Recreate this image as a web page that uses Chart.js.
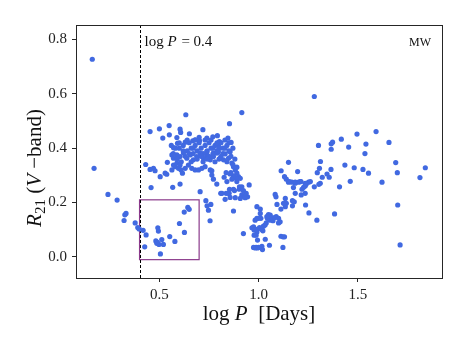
<!DOCTYPE html>
<html>
<head>
<meta charset="utf-8">
<script src="https://cdn.jsdelivr.net/npm/chart.js@4/dist/chart.umd.min.js"></script>
<style>
  html, body { margin: 0; padding: 0; background: #fff; }
  #wrap { width: 468px; height: 351px; }
</style>
</head>
<body>
<div id="wrap"><canvas id="r21Chart" width="468" height="351"></canvas></div>
<script>
// log P (days) and R21 amplitude ratio
const logP = [
    0.162, 0.171, 0.241, 0.287, 0.326, 0.332, 0.322, 0.378, 0.391, 0.398,
    0.418, 0.433, 0.426, 0.492, 0.495, 0.482, 0.490, 0.498, 0.512, 0.520,
    0.505, 0.552, 0.578, 0.601, 0.625, 0.643, 0.650, 0.626, 0.487,
    0.705, 0.734, 0.740, 0.747, 0.755, 0.759, 0.809, 0.831, 0.851, 0.878,
    0.873, 0.902, 0.915, 0.927, 0.944, 0.952, 0.923, 0.937, 0.932, 0.907,
    0.882, 0.856, 0.848, 0.836, 0.815, 0.873, 0.853, 0.903, 0.915, 0.923,
    0.772, 0.789, 0.764,
    0.974, 0.977, 0.991, 0.994, 1.008, 1.011, 1.024, 1.033, 0.994, 0.982,
    1.019, 1.054, 1.058, 0.991, 1.008, 0.982, 0.991, 1.049, 1.044, 1.038,
    1.032, 1.058, 1.067, 1.072, 1.088, 1.100, 1.108, 0.966, 0.977, 0.991,
    1.004, 1.016, 1.016, 0.974, 0.987, 0.999, 1.112, 1.122, 1.130, 1.122,
    0.999, 1.011, 1.021, 0.987, 1.083, 1.087, 1.092, 1.134, 1.139, 1.134,
    1.125, 1.112, 1.100, 1.080, 1.041,
    1.150, 1.113, 1.130, 1.139, 1.150, 1.167, 1.184, 1.201, 1.213, 1.251,
    1.260, 1.175, 1.184, 1.218, 1.226, 1.234, 1.239, 1.214, 1.234, 1.170,
    1.179, 1.170, 1.236, 1.253, 1.293, 1.382, 1.196, 1.155, 1.184, 1.209,
    1.234, 1.280,
    1.280, 1.301, 1.365, 1.372, 1.365, 1.416, 1.453, 1.495, 1.540, 1.535,
    1.591, 1.656, 1.311, 1.306, 1.434, 1.481, 1.525, 1.553, 1.690, 1.698,
    1.839, 1.812, 1.621, 1.461, 1.407, 1.364, 1.344, 1.355, 1.320, 1.295,
    1.310, 1.303, 1.700, 1.712,
    0.431, 0.453, 0.470, 0.478, 0.458, 0.504, 0.529, 0.537, 0.567, 0.604,
    0.540, 0.563,
    0.633, 0.453, 0.500, 0.549, 0.517, 0.550, 0.604, 0.607, 0.651, 0.719,
    0.588, 0.591, 0.630, 0.668, 0.680, 0.702, 0.739, 0.769, 0.792, 0.915,
    0.853, 0.845, 0.861, 0.802, 0.797, 0.571, 0.563,
    0.571, 0.579, 0.588, 0.596, 0.604, 0.609, 0.616, 0.630, 0.646, 0.663,
    0.680, 0.697, 0.714, 0.730, 0.756, 0.764, 0.571, 0.588, 0.604, 0.621,
    0.638, 0.655, 0.671, 0.688, 0.705, 0.722, 0.739, 0.756, 0.772, 0.789,
    0.714, 0.739, 0.772, 0.797, 0.831, 0.856, 0.806, 0.823, 0.848, 0.865,
    0.873, 0.882, 0.890, 0.898, 0.907, 0.887, 0.873, 0.856, 0.836, 0.826,
    0.840, 0.865, 0.890,
    0.60, 0.62, 0.64, 0.65, 0.66, 0.67, 0.68, 0.69, 0.70, 0.71,
    0.72, 0.73, 0.74, 0.75, 0.76, 0.77, 0.78, 0.79, 0.80, 0.81,
    0.82, 0.83, 0.84, 0.85, 0.86, 0.63, 0.66, 0.69, 0.72, 0.75,
    0.78, 0.81, 0.84, 0.61, 0.70, 0.73, 0.68, 0.64, 0.60, 0.58,
    0.57, 0.56, 0.59, 0.62, 0.65, 0.67, 0.71, 0.74, 0.77, 0.80,
    0.82, 0.79, 0.76, 0.83, 0.85, 0.87, 0.88, 0.87, 0.89, 0.86
];
const r21 = [
    0.727, 0.326, 0.230, 0.209, 0.155, 0.160, 0.134, 0.125, 0.108, 0.103,
    0.098, 0.081, 0.037, 0.107, 0.095, 0.059, 0.054, 0.046, 0.064, 0.046,
    0.011, 0.075, 0.057, 0.123, 0.165, 0.182, 0.175, 0.090, 0.050,
    0.240, 0.207, 0.188, 0.172, 0.133, 0.193, 0.234, 0.212, 0.234, 0.244,
    0.169, 0.249, 0.228, 0.221, 0.221, 0.265, 0.086, 0.234, 0.218, 0.215,
    0.218, 0.219, 0.234, 0.234, 0.234, 0.249, 0.249, 0.258, 0.258, 0.244,
    0.286, 0.268, 0.317,
    0.111, 0.080, 0.101, 0.062, 0.160, 0.142, 0.113, 0.065, 0.033, 0.033,
    0.027, 0.043, 0.154, 0.185, 0.176, 0.135, 0.142, 0.156, 0.142, 0.125,
    0.117, 0.135, 0.144, 0.133, 0.148, 0.142, 0.129, 0.107, 0.099, 0.092,
    0.108, 0.101, 0.039, 0.035, 0.035, 0.035, 0.076, 0.074, 0.074, 0.035,
    0.142, 0.105, 0.096, 0.080, 0.230, 0.221, 0.193, 0.215, 0.197, 0.185,
    0.197, 0.176, 0.125, 0.145, 0.148,
    0.348, 0.317, 0.295, 0.286, 0.275, 0.275, 0.275, 0.275, 0.277, 0.275,
    0.277, 0.255, 0.234, 0.249, 0.256, 0.261, 0.267, 0.228, 0.234, 0.207,
    0.203, 0.188, 0.191, 0.162, 0.135, 0.158, 0.314, 0.277, 0.271, 0.277,
    0.271, 0.258,
    0.590, 0.410, 0.416, 0.422, 0.396, 0.433, 0.404, 0.452, 0.415, 0.380,
    0.461, 0.421, 0.351, 0.326, 0.338, 0.328, 0.322, 0.308, 0.347, 0.310,
    0.328, 0.292, 0.275, 0.278, 0.258, 0.322, 0.305, 0.293, 0.293, 0.310,
    0.271, 0.267, 0.191, 0.044,
    0.340, 0.322, 0.326, 0.317, 0.255, 0.295, 0.308, 0.304, 0.256, 0.268,
    0.348, 0.320,
    0.523, 0.461, 0.471, 0.483, 0.437, 0.449, 0.470, 0.458, 0.453, 0.468,
    0.439, 0.418, 0.422, 0.427, 0.431, 0.428, 0.437, 0.442, 0.446, 0.531,
    0.490, 0.437, 0.421, 0.424, 0.410, 0.402, 0.375,
    0.338, 0.332, 0.345, 0.326, 0.338, 0.320, 0.308, 0.326, 0.338, 0.326,
    0.320, 0.320, 0.326, 0.332, 0.320, 0.301, 0.363, 0.375, 0.369, 0.382,
    0.363, 0.375, 0.357, 0.369, 0.382, 0.363, 0.375, 0.357, 0.369, 0.382,
    0.375, 0.387, 0.382, 0.387, 0.379, 0.387, 0.363, 0.357, 0.363, 0.345,
    0.332, 0.320, 0.308, 0.295, 0.289, 0.289, 0.298, 0.305, 0.310, 0.293,
    0.277, 0.286, 0.277,
    0.40, 0.41, 0.39, 0.42, 0.40, 0.38, 0.41, 0.39, 0.42, 0.40,
    0.38, 0.41, 0.39, 0.42, 0.40, 0.38, 0.41, 0.39, 0.40, 0.42,
    0.38, 0.40, 0.41, 0.39, 0.37, 0.37, 0.35, 0.36, 0.35, 0.37,
    0.35, 0.37, 0.35, 0.35, 0.44, 0.43, 0.43, 0.43, 0.42, 0.40,
    0.38, 0.41, 0.36, 0.39, 0.38, 0.40, 0.37, 0.36, 0.40, 0.36,
    0.40, 0.42, 0.43, 0.43, 0.42, 0.40, 0.36, 0.34, 0.33, 0.31
];
const xTicks = [0.5, 1.0, 1.5];
const yTicks = [0.0, 0.2, 0.4, 0.6, 0.8];
const cutLogP = 0.4;                 // dashed line
const boxLogP = [0.4, 0.7];          // highlighted region
const boxR21 = [-0.01, 0.21];

const serif = "'Liberation Serif', 'DejaVu Serif', serif";

// draw a line of text built from pieces with different fonts
function drawPieces(ctx, pieces, x, y) {
    let w = 0;
    pieces.forEach(p => { ctx.font = p.font; w += ctx.measureText(p.text).width; });
    let cx = x - w / 2;
    pieces.forEach(p => {
        ctx.font = p.font;
        ctx.fillText(p.text, cx, y + (p.dy || 0));
        cx += ctx.measureText(p.text).width;
    });
}

const extras = {
    id: 'extras',
    beforeDatasetsDraw(chart) {
        const { ctx, chartArea: a, scales: { x, y } } = chart;
        ctx.save();
        // region box
        const x1 = x.getPixelForValue(boxLogP[0]), x2 = x.getPixelForValue(boxLogP[1]);
        const y1 = y.getPixelForValue(boxR21[1]), y2 = y.getPixelForValue(boxR21[0]);
        ctx.strokeStyle = '#8b3a8b';
        ctx.lineWidth = 1.2;
        ctx.strokeRect(x1, y1, x2 - x1, y2 - y1);
        // cut line
        const lx = Math.round(x.getPixelForValue(cutLogP)) + 0.5;
        ctx.strokeStyle = '#000';
        ctx.lineWidth = 1;
        ctx.setLineDash([3, 2]);
        ctx.beginPath();
        ctx.moveTo(lx, a.top);
        ctx.lineTo(lx, a.bottom);
        ctx.stroke();
        ctx.restore();
    },
    afterDraw(chart) {
        const { ctx, chartArea: a, scales: { x } } = chart;
        ctx.save();
        // frame
        ctx.strokeStyle = '#262626';
        ctx.lineWidth = 1;
        ctx.strokeRect(Math.round(a.left) + 0.5, Math.round(a.top) + 0.5,
            Math.round(a.right - a.left), Math.round(a.bottom - a.top));
        ctx.fillStyle = '#111';
        ctx.textBaseline = 'alphabetic';
        // annotations
        ctx.textAlign = 'left';
        const lx = x.getPixelForValue(cutLogP) + 5;
        ctx.font = '15px ' + serif;
        const logW = ctx.measureText('log ').width;
        ctx.fillText('log ', lx, 46);
        ctx.font = 'italic 15px ' + serif;
        const pW = ctx.measureText('P').width;
        ctx.fillText('P', lx + logW, 46);
        ctx.font = '15px ' + serif;
        ctx.fillText(' = 0.4', lx + logW + pW + 1, 46);
        ctx.font = '12px ' + serif;
        ctx.textAlign = 'right';
        ctx.fillText('MW', a.right - 11, 46);
        // x title
        ctx.textAlign = 'left';
        drawPieces(ctx, [
            { text: 'log ', font: '21px ' + serif },
            { text: 'P', font: 'italic 21px ' + serif },
            { text: '  [Days]', font: '21px ' + serif }
        ], (a.left + a.right) / 2, 320);
        // y title
        ctx.translate(41, 168);
        ctx.rotate(-Math.PI / 2);
        drawPieces(ctx, [
            { text: 'R', font: 'italic 21px ' + serif },
            { text: '21', font: '15px ' + serif, dy: 4 },
            { text: ' (', font: '21px ' + serif },
            { text: 'V', font: 'italic 21px ' + serif },
            { text: ' \u2212band)', font: '21px ' + serif }
        ], 0, 0);
        ctx.restore();
    }
};

const ctx = document.getElementById('r21Chart').getContext('2d');
const r21Chart = new Chart(ctx, {
    type: 'scatter',
    data: {
        datasets: [{
            label: 'MW',
            data: logP.map((v, i) => ({ x: v, y: r21[i] })),
            backgroundColor: '#4169e1',
            borderWidth: 0,
            pointRadius: 2.6,
            pointHoverRadius: 2.6
        }]
    },
    options: {
        responsive: false,
        animation: false,
        layout: { padding: { top: 25, right: 26, left: 0, bottom: 0 } },
        scales: {
            x: {
                type: 'linear',
                min: 0.08,
                max: 1.923,
                afterBuildTicks: s => { s.ticks = xTicks.map(v => ({ value: v })); },
                afterFit: s => { s.height = 73; },
                grid: { display: true, drawOnChartArea: false, drawTicks: true, tickLength: 4, color: '#262626' },
                border: { display: true, color: '#262626', width: 1 },
                ticks: {
                    padding: 4,
                    color: '#222',
                    font: { family: serif, size: 15 },
                    callback: v => v.toFixed(1)
                }
            },
            y: {
                type: 'linear',
                min: -0.0775,
                max: 0.853,
                afterBuildTicks: s => { s.ticks = yTicks.map(v => ({ value: v })); },
                afterFit: s => { s.width = 76; },
                grid: { display: true, drawOnChartArea: false, drawTicks: true, tickLength: 4, color: '#262626' },
                border: { display: true, color: '#262626', width: 1 },
                ticks: {
                    padding: 5,
                    color: '#222',
                    font: { family: serif, size: 15 },
                    callback: v => v.toFixed(1)
                }
            }
        },
        plugins: {
            legend: { display: false },
            tooltip: { enabled: false }
        }
    },
    plugins: [extras]
});
</script>
</body>
</html>
